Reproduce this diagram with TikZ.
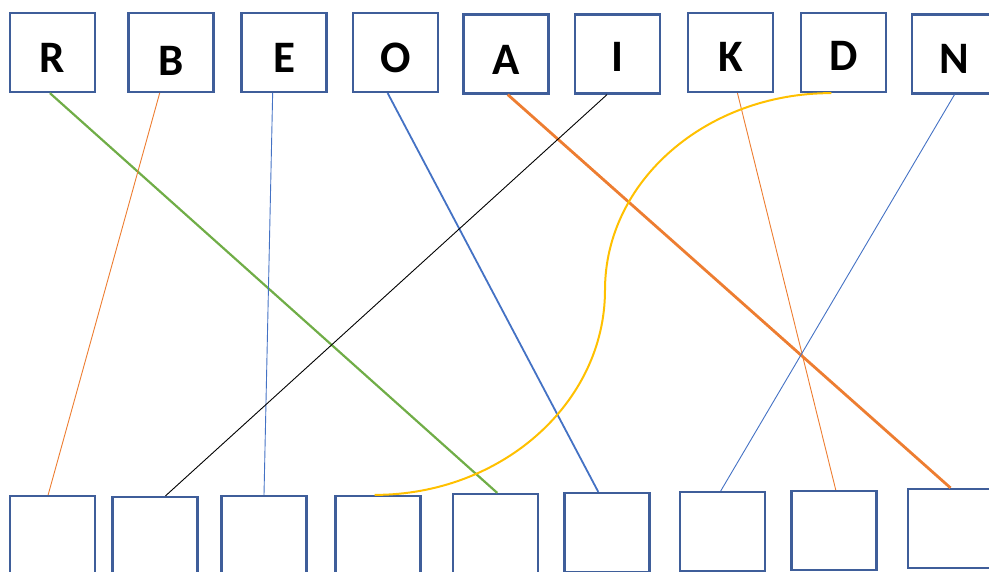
\documentclass[tikz,border=0pt]{standalone}
\usepackage{fontspec}
\setmainfont{Carlito}
\usetikzlibrary{calc}
\definecolor{boxblue}{RGB}{63,94,154}
\definecolor{lgreen}{RGB}{112,173,71}
\definecolor{lorange}{RGB}{237,125,49}
\definecolor{lblue}{RGB}{68,114,196}
\definecolor{lyellow}{RGB}{255,192,0}
\tikzset{
  box/.style={draw=boxblue, line width=2.2pt, rectangle, minimum width=85pt, minimum height=79pt, inner sep=0pt, text height=29pt, text depth=0pt, font=\fontsize{45}{45}\selectfont\bfseries},
  thinline/.style={line width=0.9pt},
}
\newcommand{\lowr}[2]{\raisebox{-#1pt}{#2}}
\begin{document}
\begin{tikzpicture}[x=1pt,y=-1pt]
\useasboundingbox (0,0) rectangle (989,571);
\clip (0,0) rectangle (989,571);
% top row
\node[box] (R) at (52.5,52.5) {\lowr{5.5}{R}};
\node[box] (B) at (171,52.5) {\lowr{8}{B}};
\node[box] (E) at (284,52.5) {\lowr{5}{E}};
\node[box] (O) at (395.5,52.5) {\lowr{5.5}{O}};
\node[box] (A) at (506,54) {\lowr{6}{A}};
\node[box] (I) at (617.5,54) {\lowr{3}{I}};
\node[box] (K) at (730.5,52.5) {\lowr{4.5}{K}};
\node[box] (D) at (843.5,52.5) {\lowr{3.5}{D}};
\node[box] (N) at (954.5,54) {\lowr{5}{N}};
% bottom row
\node[box] (b1) at (52.5,535.5) {};
\node[box] (b2) at (155,536.5) {};
\node[box] (b3) at (264,535.5) {};
\node[box] (b4) at (378,535.5) {};
\node[box] (b5) at (495.5,533.5) {};
\node[box] (b6) at (607,532.5) {};
\node[box] (b7) at (722.5,531.5) {};
\node[box] (b8) at (834,530.5) {};
\node[box] (b9) at (950.5,528.5) {};
% connectors
\draw[lgreen, line width=2.2pt] ($(R.south west)!0.47!(R.south east)$) -- ($(b5.north west)!0.52!(b5.north east)$);
\draw[lorange, thinline] ($(B.south west)!0.37!(B.south east)$) -- ($(b1.north west)!0.45!(b1.north east)$);
\draw[lblue, thinline] ($(E.south west)!0.37!(E.south east)$) -- ($(b3.north west)!0.5!(b3.north east)$);
\draw[lblue, line width=1.8pt] ($(O.south west)!0.41!(O.south east)$) -- ($(b6.north west)!0.40!(b6.north east)$);
\draw[lorange, line width=2.8pt] ($(A.south west)!0.52!(A.south east)$) -- ($(b9.north west)!0.5!(b9.north east)$);
\draw[black, thinline] ($(I.south west)!0.38!(I.south east)$) -- ($(b2.north west)!0.62!(b2.north east)$);
\draw[lorange, thinline] ($(K.south west)!0.58!(K.south east)$) -- ($(b8.north west)!0.52!(b8.north east)$);
\draw[lblue, thinline] ($(N.south west)!0.5!(N.south east)$) -- ($(b7.north west)!0.48!(b7.north east)$);
\coordinate (ymid) at (605,290);
\draw[lyellow, line width=2pt] ($(D.south west)!0.36!(D.south east)$) .. controls +(-125,0) and +(0,-109) .. (ymid) .. controls +(0,113) and +(127,0) .. ($(b4.north west)!0.46!(b4.north east)$);
\end{tikzpicture}
\end{document}
